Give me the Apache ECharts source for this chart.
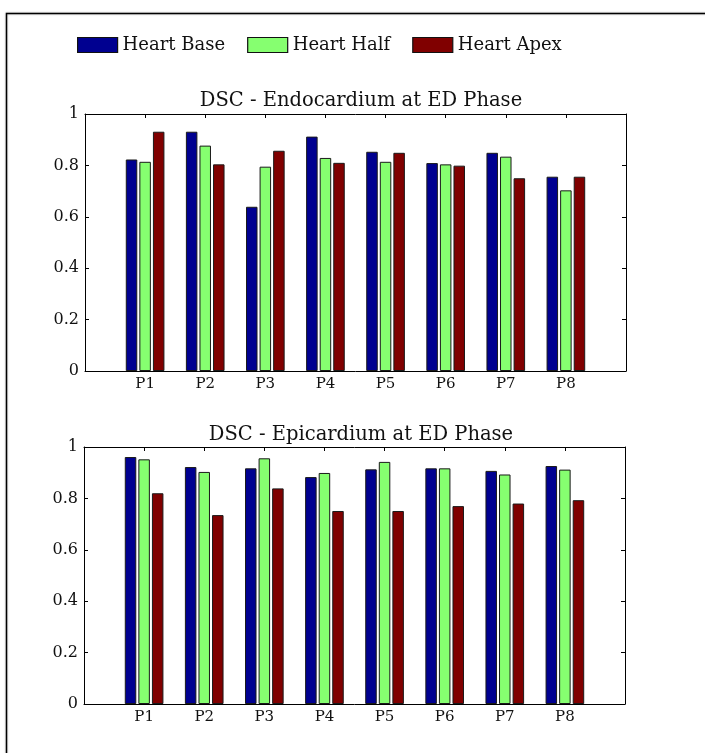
<!DOCTYPE html>
<html><head><meta charset="utf-8">
<script src="https://cdn.jsdelivr.net/npm/echarts@6/dist/echarts.min.js"></script>
<style>html,body{margin:0;padding:0;background:#fff}#c{width:705px;height:753px}</style>
</head><body><div id="c"></div>
<script>
const categories = ['P1','P2','P3','P4','P5','P6','P7','P8'];
const seriesNames = ['Heart Base','Heart Half','Heart Apex'];
const yTicks = [0, 0.2, 0.4, 0.6, 0.8, 1];
const endoBase = [0.823, 0.931, 0.639, 0.912, 0.853, 0.809, 0.849, 0.756];
const endoHalf = [0.814, 0.877, 0.795, 0.829, 0.814, 0.804, 0.834, 0.703];
const endoApex = [0.931, 0.804, 0.857, 0.810, 0.849, 0.799, 0.750, 0.756];
const epiBase = [0.961, 0.922, 0.917, 0.883, 0.913, 0.917, 0.907, 0.926];
const epiHalf = [0.952, 0.903, 0.956, 0.899, 0.942, 0.917, 0.893, 0.912];
const epiApex = [0.820, 0.735, 0.839, 0.751, 0.751, 0.770, 0.780, 0.793];
const titles = ['DSC - Endocardium at ED Phase', 'DSC - Epicardium at ED Phase'];

const colors = ['#000090', '#86FF70', '#800000'];
const FONT = '"DejaVu Serif", serif';
const chart = echarts.init(document.getElementById('c'), null, {renderer:'canvas'});

const grids = [
  {left: 85, top: 114, width: 541, height: 257},
  {left: 84, top: 447, width: 541, height: 257}
];
function xAxes(gi){
  const base = {type:'value', gridIndex:gi, min:0, max:categories.length+1, interval:1,
    axisLine:{show:true, onZero:false, lineStyle:{color:'#000', width:1}},
    axisTick:{show:true, inside:true, length:4, lineStyle:{color:'#000'}},
    splitLine:{show:false}};
  return [
    Object.assign({}, base, {position:'bottom',
      axisLabel:{show:true, fontFamily:FONT, fontSize:15, color:'#111', margin:6,
        formatter:v => (v>=1 && v<=categories.length) ? categories[v-1] : ''}}),
    Object.assign({}, base, {position:'top', axisLabel:{show:false}})
  ];
}
function yAxes(gi){
  const base = {type:'value', gridIndex:gi, min:yTicks[0], max:yTicks[yTicks.length-1], interval:0.2,
    axisLine:{show:true, onZero:false, lineStyle:{color:'#000', width:1}},
    axisTick:{show:true, inside:true, length:4, lineStyle:{color:'#000'}},
    splitLine:{show:false}};
  return [
    Object.assign({}, base, {position:'left',
      axisLabel:{show:true, fontFamily:FONT, fontSize:16, color:'#111', margin:6,
        formatter:v => String(Math.round(v*10)/10)}}),
    Object.assign({}, base, {position:'right', axisLabel:{show:false}})
  ];
}
const xAxis = [...xAxes(0), ...xAxes(1)];
const yAxis = [...yAxes(0), ...yAxes(1)];
const datasets = [[endoBase, endoHalf, endoApex], [epiBase, epiHalf, epiApex]];
const series = [];
datasets.forEach((grp, gi) => {
  grp.forEach((vals, si) => {
    series.push({
      name: seriesNames[si], type:'bar', xAxisIndex: gi*2, yAxisIndex: gi*2,
      barWidth: 11.5, barGap: '18%',
      itemStyle:{color: colors[si], borderColor:'#1a1a1a', borderWidth:1},
      data: vals.map((v, i) => [i+1, v])
    });
  });
});

chart.setOption({
  animation:false,
  backgroundColor:'#fff',
  title: titles.map((t, i) => ({text:t, left:356, textAlign:'center', top: i===0 ? 86 : 420,
    textStyle:{fontFamily:FONT, fontSize:19.5, fontWeight:'normal', color:'#111'}})),
  legend:{data:seriesNames, top:36, left:77, padding:0, itemWidth:40, itemHeight:15, itemGap:22,
    icon:'rect', textStyle:{fontFamily:FONT, fontSize:18, color:'#111'},
    itemStyle:{borderColor:'#111', borderWidth:1.2}},
  grid: grids,
  xAxis, yAxis, series,
  graphic:[{type:'rect', shape:{x:6.5, y:13.5, width:760, height:800},
    style:{fill:'none', stroke:'#000', lineWidth:1.5, shadowColor:'rgba(0,0,0,0.35)', shadowBlur:2}, silent:true}]
});
</script></body></html>
